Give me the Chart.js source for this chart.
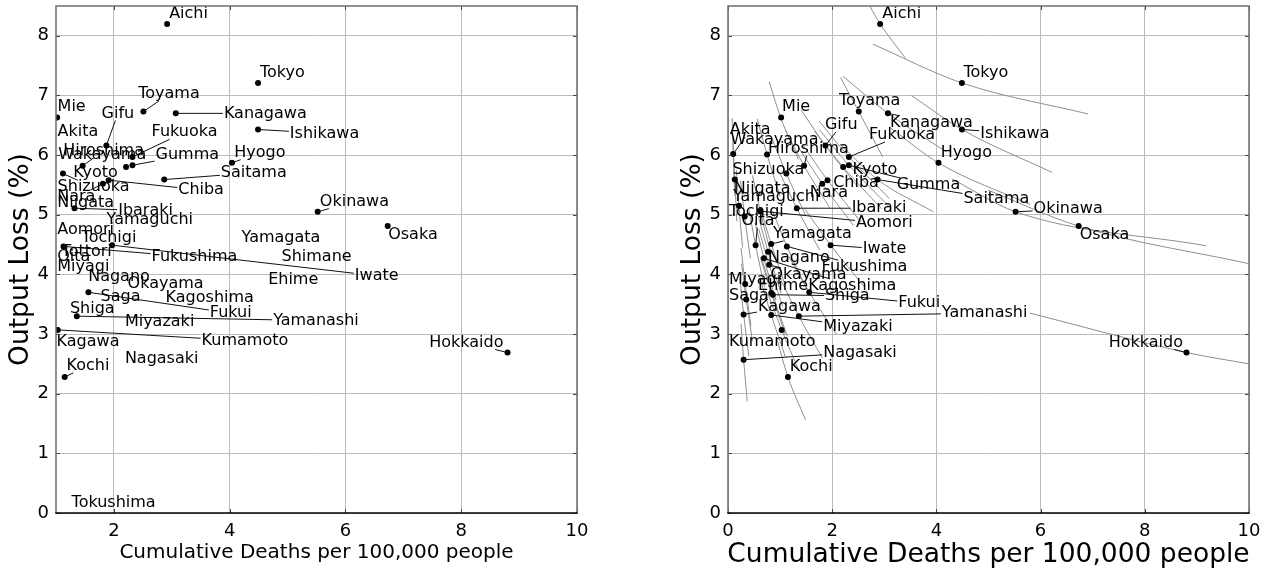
<!DOCTYPE html>
<html><head><meta charset="utf-8">
<script src="https://cdn.jsdelivr.net/npm/chart.js@4.4.1/dist/chart.umd.min.js"></script>
<style>
html,body{margin:0;padding:0;background:#fff;}
body{width:1277px;height:571px;position:relative;overflow:hidden;}
canvas{position:absolute;top:0;}
#c1{left:0;}
#c2{left:640px;}
</style></head>
<body>
<canvas id="c1" width="640" height="571"></canvas>
<canvas id="c2" width="637" height="571"></canvas>
<script>
// ---------- data ----------
const prefectures = ['Aichi','Tokyo','Toyama','Kanagawa','Ishikawa','Mie','Gifu','Fukuoka','Hyogo','Akita',
 'Wakayama','Hiroshima','Kyoto','Gumma','Shizuoka','Saitama','Chiba','Nara','Niigata','Yamaguchi',
 'Ibaraki','Okinawa','Osaka','Tochigi','Aomori','Oita','Yamagata','Iwate','Fukushima','Nagano',
 'Kagoshima','Okayama','Miyagi','Ehime','Shiga','Saga','Fukui','Kagawa','Yamanashi','Miyazaki',
 'Kumamoto','Nagasaki','Kochi','Hokkaido','Tottori','Shimane','Tokushima'];
// cumulative deaths per 100,000 people
const deaths = [2.92,4.49,2.51,3.07,4.49,1.02,1.87,2.32,4.04,0.10,
 0.75,1.46,2.21,2.32,1.12,2.87,1.91,1.81,0.13,0.21,
 1.32,5.52,6.73,0.32,0.62,0.53,0.83,1.97,1.13,0.77,
 0.69,0.79,0.33,0.83,0.86,0.35,1.56,0.30,1.36,0.83,
 1.03,0.30,1.15,8.80,0,0,0];
// output loss (%)
const outputLoss = [8.20,7.21,6.73,6.70,6.43,6.63,6.16,5.97,5.87,6.02,
 6.01,5.82,5.80,5.83,5.69,5.59,5.58,5.52,5.59,5.15,
 5.11,5.05,4.81,4.97,5.06,4.49,4.51,4.49,4.47,4.38,
 4.27,4.16,3.84,3.69,3.66,3.58,3.70,3.33,3.30,3.32,
 3.07,2.57,2.28,2.69,4.45,4.30,0.20];
// label anchors (data units) in the left panel
const leftLabelX = [2.955,4.522,2.420,3.900,5.040,1.028,1.788,2.651,4.078,1.028,
 1.038,1.124,1.297,2.720,1.028,3.848,3.111,1.021,1.021,1.874,
 2.074,5.558,6.738,1.442,1.021,1.021,4.206,6.162,2.651,1.556,
 2.893,2.237,1.021,4.665,1.240,1.770,3.658,1.010,4.751,2.190,
 3.515,2.190,1.183,7.446,1.097,4.896,1.269];
const leftLabelY = [8.364,7.380,7.024,6.700,6.365,6.801,6.700,6.382,6.040,6.392,
 6.002,6.074,5.705,6.002,5.461,5.705,5.415,5.298,5.193,4.913,
 5.069,5.219,4.662,4.606,4.745,4.288,4.606,3.975,4.288,3.963,
 3.601,3.841,4.121,3.908,3.417,3.628,3.350,2.874,3.226,3.209,
 2.886,2.580,2.467,2.858,4.382,4.288,0.168];
// label anchors (data units) in the right panel
const rightLabelX = [2.962,4.519,2.129,3.110,4.840,1.038,1.860,2.706,4.085,0.033,
 0.046,0.769,2.392,3.238,0.085,4.519,2.019,1.571,0.110,0.096,
 2.373,5.865,6.750,0.019,2.456,0.258,0.865,2.585,1.796,0.769,
 1.538,0.815,0.019,0.577,1.860,0.019,3.269,0.577,4.104,1.827,
 0.019,1.827,1.187,7.308,null,null,null];
const rightLabelY = [8.364,7.380,6.911,6.543,6.365,6.801,6.504,6.337,6.030,6.420,
 6.253,6.102,5.750,5.499,5.750,5.265,5.528,5.360,5.427,5.303,
 5.109,5.092,4.662,5.052,4.858,4.901,4.678,4.422,4.121,4.271,
 3.807,3.992,3.908,3.807,3.640,3.640,3.518,3.461,3.350,3.126,
 2.874,2.690,2.456,2.858,null,null,null];
// grey curves in the right panel: [upper end, through the point, lower end]
const curveOwners = ['Aichi','Tokyo','Ishikawa','Toyama','Kanagawa','Hokkaido','Kochi','Nagasaki','Mie',
 'Osaka','Okinawa','Hyogo','Saitama','Gumma','Kyoto','Fukuoka','Gifu','Chiba','Nara','Hiroshima',
 'Shizuoka','Ibaraki','Iwate','Fukushima','Fukui','Yamanashi','Kumamoto','Akita','Wakayama','Niigata',
 'Yamaguchi','Tochigi','Aomori','Oita','Yamagata','Nagano','Kagoshima','Okayama','Miyagi','Ehime',
 'Shiga','Saga','Kagawa','Miyazaki'];
const curvePoints = [
 [[2.72,8.50],[2.92,8.20],[3.41,7.62]],
 [[2.78,7.86],[4.49,7.21],[6.91,6.69]],
 [[3.52,7.00],[4.49,6.43],[6.22,5.71]],
 [[2.16,7.30],[2.51,6.73],[2.97,5.97]],
 [[2.21,7.32],[3.07,6.70],[4.20,6.05]],
 [[5.80,3.35],[8.80,2.69],[10.0,2.50]],
 [[0.95,2.88],[1.15,2.28],[1.49,1.56]],
 [[0.25,3.17],[0.30,2.57],[0.37,1.87]],
 [[0.79,7.23],[1.01,6.63],[1.35,5.93]],
 [[5.00,5.41],[6.73,4.81],[10.0,4.18]],
 [[4.30,5.60],[5.52,5.05],[9.18,4.48]],
 [[3.10,6.47],[4.04,5.87],[5.80,5.17]],
 [[2.15,6.19],[2.87,5.59],[3.94,5.05]],
 [[1.75,6.43],[2.32,5.83],[3.10,5.13]],
 [[1.66,6.40],[2.21,5.80],[2.95,5.10]],
 [[1.75,6.57],[2.32,5.97],[3.10,5.27]],
 [[1.40,6.76],[1.87,6.16],[2.50,5.46]],
 [[1.43,6.18],[1.91,5.58],[2.55,4.88]],
 [[1.36,6.12],[1.81,5.52],[2.41,4.82]],
 [[1.10,6.42],[1.46,5.82],[1.95,5.12]],
 [[0.84,6.29],[1.12,5.69],[1.49,4.99]],
 [[0.99,5.71],[1.32,5.11],[1.76,4.41]],
 [[1.48,5.09],[1.97,4.49],[2.62,3.79]],
 [[0.85,5.07],[1.13,4.47],[1.50,3.77]],
 [[1.17,4.30],[1.56,3.70],[2.08,3.00]],
 [[1.02,3.90],[1.36,3.30],[1.81,2.60]],
 [[0.77,3.67],[1.03,3.07],[1.37,2.37]],
 [[0.08,6.62],[0.10,6.02],[0.13,5.32]],
 [[0.56,6.61],[0.75,6.01],[1.00,5.31]],
 [[0.10,6.19],[0.13,5.59],[0.17,4.89]],
 [[0.16,5.75],[0.21,5.15],[0.28,4.45]],
 [[0.24,5.57],[0.32,4.97],[0.43,4.27]],
 [[0.47,5.66],[0.62,5.06],[0.82,4.36]],
 [[0.40,5.09],[0.53,4.49],[0.70,3.79]],
 [[0.62,5.11],[0.83,4.51],[1.10,3.81]],
 [[0.58,4.98],[0.77,4.38],[1.02,3.68]],
 [[0.52,4.87],[0.69,4.27],[0.92,3.57]],
 [[0.59,4.76],[0.79,4.16],[1.05,3.46]],
 [[0.25,4.44],[0.33,3.84],[0.44,3.14]],
 [[0.62,4.29],[0.83,3.69],[1.10,2.99]],
 [[0.65,4.26],[0.86,3.66],[1.14,2.96]],
 [[0.26,4.18],[0.35,3.58],[0.47,2.88]],
 [[0.23,3.93],[0.30,3.33],[0.40,2.63]],
 [[0.62,3.92],[0.83,3.32],[1.10,2.62]]
];
const xTicksLeft = [2,4,6,8,10];
const xTicksRight = [0,2,4,6,8,10];
const yTicks = [0,1,2,3,4,5,6,7,8];
const xTitle = 'Cumulative Deaths per 100,000 people';
const yTitle = 'Output Loss (%)';

// ---------- drawing ----------
Chart.defaults.font.family = '"DejaVu Sans", sans-serif';
Chart.defaults.color = '#000';

function labelsPlugin(lx, ly) {
  return { id: 'labels', afterDatasetsDraw(chart) {
    const {ctx, scales: {x, y}} = chart;
    ctx.save();
    ctx.font = '16px "DejaVu Sans"';
    ctx.textBaseline = 'middle'; ctx.textAlign = 'left';
    const h = 12;
    prefectures.forEach((name, i) => {
      if (lx[i] == null) return;
      const tx = x.getPixelForValue(lx[i]), ty = y.getPixelForValue(ly[i]);
      const w = ctx.measureText(name).width;
      if (deaths[i] >= x.min) {
        const px = x.getPixelForValue(deaths[i]), py = y.getPixelForValue(outputLoss[i]);
        const cx = tx + w / 2, cy = ty, dx = px - cx, dy = py - cy;
        const hw = w / 2 + 1, hh = h / 2 + 1;
        if (Math.abs(dx) > hw || Math.abs(dy) > hh) {
          const t = Math.min(dx !== 0 ? hw / Math.abs(dx) : 1e9, dy !== 0 ? hh / Math.abs(dy) : 1e9);
          const sx = cx + dx * t, sy = cy + dy * t;
          if (Math.hypot(px - sx, py - sy) > 9) {
            ctx.beginPath(); ctx.moveTo(sx, sy); ctx.lineTo(px, py);
            ctx.strokeStyle = '#111'; ctx.lineWidth = 1; ctx.stroke();
          }
        }
      }
    });
    ctx.fillStyle = '#000';
    prefectures.forEach((name, i) => {
      if (lx[i] == null) return;
      ctx.fillText(name, x.getPixelForValue(lx[i]), y.getPixelForValue(ly[i]));
    });
    ctx.restore();
  }};
}

function framePlugin(xTicks, xTitleSize, xTitleY, yTitleX) {
  return { id: 'frame', afterDraw(chart) {
    const {ctx, chartArea: a, scales: {x, y}} = chart;
    ctx.save();
    ctx.lineWidth = 1;
    ctx.strokeStyle = '#444';
    const tl = 4;
    xTicks.forEach(v => { const p = Math.round(x.getPixelForValue(v)) + 0.5;
      ctx.beginPath(); ctx.moveTo(p, a.bottom); ctx.lineTo(p, a.bottom - tl);
      ctx.moveTo(p, a.top); ctx.lineTo(p, a.top + tl); ctx.stroke(); });
    yTicks.forEach(v => { const p = Math.round(y.getPixelForValue(v)) + 0.5;
      ctx.beginPath(); ctx.moveTo(a.left, p); ctx.lineTo(a.left + tl, p);
      ctx.moveTo(a.right, p); ctx.lineTo(a.right - tl, p); ctx.stroke(); });
    ctx.lineWidth = 1.5;
    ctx.strokeStyle = '#6e6e6e';
    ctx.beginPath(); ctx.moveTo(a.left, a.bottom); ctx.lineTo(a.left, a.top);
    ctx.lineTo(a.right, a.top); ctx.lineTo(a.right, a.bottom); ctx.stroke();
    ctx.strokeStyle = '#000';
    ctx.beginPath(); ctx.moveTo(a.left - 0.75, a.bottom); ctx.lineTo(a.right + 0.75, a.bottom); ctx.stroke();
    ctx.fillStyle = '#000';
    ctx.textAlign = 'center'; ctx.textBaseline = 'alphabetic';
    ctx.font = xTitleSize + 'px "DejaVu Sans"';
    ctx.fillText(xTitle, (a.left + a.right) / 2, xTitleY);
    ctx.translate(yTitleX, (a.top + a.bottom) / 2);
    ctx.rotate(-Math.PI / 2);
    ctx.textBaseline = 'middle';
    ctx.font = '26.5px "DejaVu Sans"';
    ctx.fillText(yTitle, 0, 0);
    ctx.restore();
  }};
}

function noPad(s) { s.paddingTop = 0; s.paddingBottom = 0; s.paddingLeft = 0; s.paddingRight = 0; }

function makeScales(xmin, xTicks, yWidth) {
  return {
    x: { type: 'linear', min: xmin, max: 10,
      afterBuildTicks: s => { s.ticks = xTicks.map(v => ({value: v})); },
      afterFit: s => { s.height = 58; noPad(s); },
      grid: { color: '#bcbcbc', lineWidth: 1, drawTicks: false },
      border: { display: false },
      ticks: { padding: 8, font: { size: 18 }, color: '#000' } },
    y: { type: 'linear', min: 0, max: 8.5,
      afterBuildTicks: s => { s.ticks = yTicks.map(v => ({value: v})); },
      afterFit: s => { s.width = yWidth; noPad(s); },
      grid: { color: '#bcbcbc', lineWidth: 1, drawTicks: false },
      border: { display: false },
      ticks: { padding: 7, font: { size: 18 }, color: '#000' } }
  };
}

const pts = (cond) => prefectures.map((n, i) => cond(i) ? {x: deaths[i], y: outputLoss[i]} : null).filter(p => p);

new Chart(document.getElementById('c1'), {
  type: 'scatter',
  data: { datasets: [{ data: pts(i => true), pointRadius: 3, pointHoverRadius: 3,
    backgroundColor: '#000', borderWidth: 0, clip: 0 }] },
  options: { responsive: false, animation: false, devicePixelRatio: 1,
    layout: { padding: { top: 6, right: 63, left: 0, bottom: 0 } },
    plugins: { legend: { display: false }, tooltip: { enabled: false } },
    scales: makeScales(1, xTicksLeft, 56) },
  plugins: [labelsPlugin(leftLabelX, leftLabelY), framePlugin(xTicksLeft, 20, 558, 21)]
});

const curveSets = curveOwners.map((n, k) => ({ type: 'line',
  data: curvePoints[k].map(p => ({x: p[0], y: p[1]})),
  borderColor: '#8f8f8f', borderWidth: 1, pointRadius: 0, fill: false,
  cubicInterpolationMode: 'monotone', clip: 0, order: 2 }));

new Chart(document.getElementById('c2'), {
  type: 'scatter',
  data: { datasets: [{ data: pts(i => rightLabelX[i] != null), pointRadius: 3, pointHoverRadius: 3,
    backgroundColor: '#000', borderWidth: 0, clip: 0, order: 1 }, ...curveSets] },
  options: { responsive: false, animation: false, devicePixelRatio: 1,
    layout: { padding: { top: 6, right: 28, left: 0, bottom: 0 } },
    plugins: { legend: { display: false }, tooltip: { enabled: false } },
    scales: makeScales(0, xTicksRight, 88) },
  plugins: [labelsPlugin(rightLabelX, rightLabelY), framePlugin(xTicksRight, 26.5, 562, 53)]
});
</script>
</body></html>
